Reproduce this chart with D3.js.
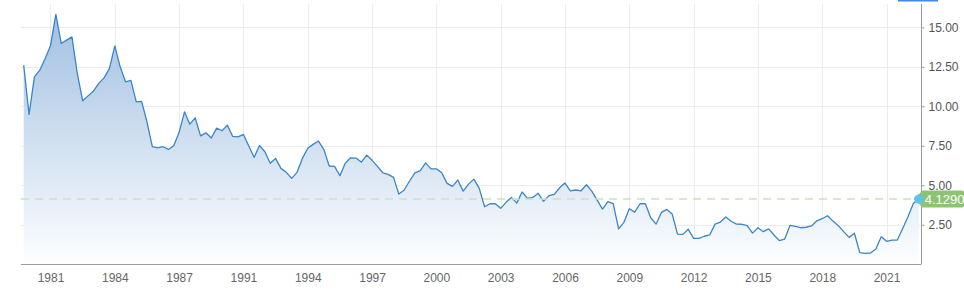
<!DOCTYPE html>
<html>
<head>
<meta charset="utf-8">
<script src="https://cdn.jsdelivr.net/npm/d3@7"></script>
<style>
  html, body { margin: 0; padding: 0; background: #fff; }
  svg { display: block; font-family: "Liberation Sans", Arial, sans-serif; }
</style>
</head>
<body>
<div id="chart"></div>
<script>
// quarterly yield values, starting 1980
const yields = [
  12.61, 9.49, 11.87, 12.29, 13.03, 13.83, 15.82, 13.98, 14.19, 14.40, 12.08, 10.35,
  10.66, 10.96, 11.45, 11.80, 12.40, 13.83, 12.50, 11.55, 11.64, 10.28, 10.31, 9.02,
  7.44, 7.37, 7.44, 7.27, 7.50, 8.35, 9.65, 8.87, 9.27, 8.13, 8.32, 7.99,
  8.62, 8.45, 8.81, 8.09, 8.07, 8.22, 7.48, 6.77, 7.52, 7.12, 6.39, 6.70,
  6.07, 5.82, 5.44, 5.82, 6.70, 7.34, 7.59, 7.80, 7.27, 6.22, 6.20, 5.60,
  6.39, 6.74, 6.72, 6.47, 6.91, 6.58, 6.20, 5.79, 5.69, 5.50, 4.44, 4.70,
  5.27, 5.79, 5.92, 6.42, 6.04, 6.04, 5.79, 5.12, 4.93, 5.33, 4.63, 5.07,
  5.39, 4.80, 3.64, 3.83, 3.83, 3.54, 3.92, 4.23, 3.87, 4.57, 4.17, 4.23,
  4.49, 3.98, 4.34, 4.42, 4.84, 5.14, 4.65, 4.70, 4.65, 5.03, 4.63, 4.06,
  3.49, 3.96, 3.83, 2.24, 2.65, 3.51, 3.30, 3.83, 3.83, 2.94, 2.54, 3.28,
  3.47, 3.18, 1.91, 1.89, 2.21, 1.64, 1.64, 1.77, 1.85, 2.54, 2.67, 2.99,
  2.72, 2.54, 2.53, 2.44, 1.97, 2.31, 2.06, 2.24, 1.85, 1.49, 1.59, 2.46,
  2.40, 2.31, 2.34, 2.42, 2.75, 2.88, 3.07, 2.73, 2.44, 2.06, 1.70, 1.96,
  0.73, 0.69, 0.71, 0.96, 1.74, 1.45, 1.53, 1.53, 2.25, 3.01, 3.85, 4.129
];
const tickIndex = [5, 17, 29, 41, 53, 65, 77, 89, 101, 113, 125, 137, 149, 161];
const tickLabels = ["1981", "1984", "1987", "1991", "1994", "1997", "2000", "2003", "2006", "2009", "2012", "2015", "2018", "2021"];
const yTicks = [2.5, 5, 7.5, 10, 12.5, 15];

const W = 964, H = 294;
const pLeft = 21, pRight = 921, pTop = 4, pBottom = 264.2;

const svg = d3.select("#chart").append("svg")
  .attr("width", W).attr("height", H);

const x = d3.scaleLinear()
  .domain([0, yields.length - 1])
  .range([23.7, 918.7]);

const y = d3.scaleLinear()
  .domain([0, 16.48])
  .range([pBottom, pTop]);

// gradient for area
const grad = svg.append("defs").append("linearGradient")
  .attr("id", "fill")
  .attr("gradientUnits", "userSpaceOnUse")
  .attr("x1", 0).attr("y1", pTop).attr("x2", 0).attr("y2", pBottom);
grad.append("stop").attr("offset", "0%").attr("stop-color", "#9ebde0");
grad.append("stop").attr("offset", "100%").attr("stop-color", "#fdfeff");

// grid
const grid = svg.append("g");
grid.selectAll(".vg").data(tickIndex).join("line")
  .attr("x1", d => Math.round(x(d)) + 0.5).attr("x2", d => Math.round(x(d)) + 0.5)
  .attr("y1", pTop).attr("y2", pBottom)
  .attr("stroke", "#ececec");
grid.selectAll(".hg").data(yTicks).join("line")
  .attr("x1", pLeft).attr("x2", pRight)
  .attr("y1", d => Math.round(y(d)) + 0.5).attr("y2", d => Math.round(y(d)) + 0.5)
  .attr("stroke", "#ececec");

// area + line
const area = d3.area()
  .x((d, i) => x(i))
  .y0(pBottom)
  .y1(d => y(d));
svg.append("path").datum(yields)
  .attr("d", area)
  .attr("fill", "url(#fill)");

const line = d3.line()
  .x((d, i) => x(i))
  .y(d => y(d));
svg.append("path").datum(yields)
  .attr("d", line)
  .attr("fill", "none")
  .attr("stroke", "#3a86c6")
  .attr("stroke-width", 1.3)
  .attr("stroke-linejoin", "round");

// last value dashed line
const last = yields[yields.length - 1];
svg.append("line")
  .attr("x1", pLeft).attr("x2", x(yields.length - 1))
  .attr("y1", y(last)).attr("y2", y(last))
  .attr("stroke", "#c9e2bd")
  .attr("stroke-width", 1.5)
  .attr("stroke-dasharray", "8,6");

// x axis
const xAxis = d3.axisBottom(x)
  .tickValues(tickIndex)
  .tickFormat((d, i) => tickLabels[i])
  .tickSize(0)
  .tickPadding(9);
const gx = svg.append("g")
  .attr("transform", `translate(0,${Math.round(pBottom) + 0.5})`)
  .call(xAxis);
gx.select(".domain").remove();
gx.append("line")
  .attr("x1", pLeft).attr("x2", pRight)
  .attr("stroke", "#9a9a9a");
gx.selectAll("text")
  .attr("fill", "#666")
  .style("font-size", "12px");

// y axis on right
const yAxis = d3.axisRight(y)
  .tickValues(yTicks)
  .tickFormat(d3.format(".2f"))
  .tickSize(3)
  .tickPadding(4);
const gy = svg.append("g")
  .attr("transform", `translate(${pRight + 0.5},0)`)
  .call(yAxis);
gy.select(".domain").remove();
gy.append("line")
  .attr("y1", pTop).attr("y2", Math.round(pBottom) + 0.5)
  .attr("stroke", "#9a9a9a");
gy.selectAll(".tick line").attr("stroke", "#9a9a9a");
gy.selectAll("text")
  .attr("fill", "#555")
  .style("font-size", "12px");

// last value marker + label
const lx = x(yields.length - 1), ly = y(last);
svg.append("path")
  .attr("d", `M${lx - 5},${ly} L${lx + 4},${ly - 8.5} L${W - 2},${ly - 8.5} Q${W},${ly - 8.5} ${W},${ly - 6.5} L${W},${ly + 6.5} Q${W},${ly + 8.5} ${W - 2},${ly + 8.5} L${lx + 4},${ly + 8.5} Z`)
  .attr("fill", "#8cc474");
svg.append("circle")
  .attr("cx", lx).attr("cy", ly).attr("r", 4.5)
  .attr("fill", "#5cc3f0");
svg.append("text")
  .attr("x", lx + 6).attr("y", ly + 4.5)
  .attr("fill", "#fff")
  .style("font-size", "13px")
  .text(last.toFixed(4));

// top tab underline
svg.append("rect")
  .attr("x", 898).attr("y", 0).attr("width", 40).attr("height", 1.5)
  .attr("fill", "#3f8ae6");
</script>
</body>
</html>
